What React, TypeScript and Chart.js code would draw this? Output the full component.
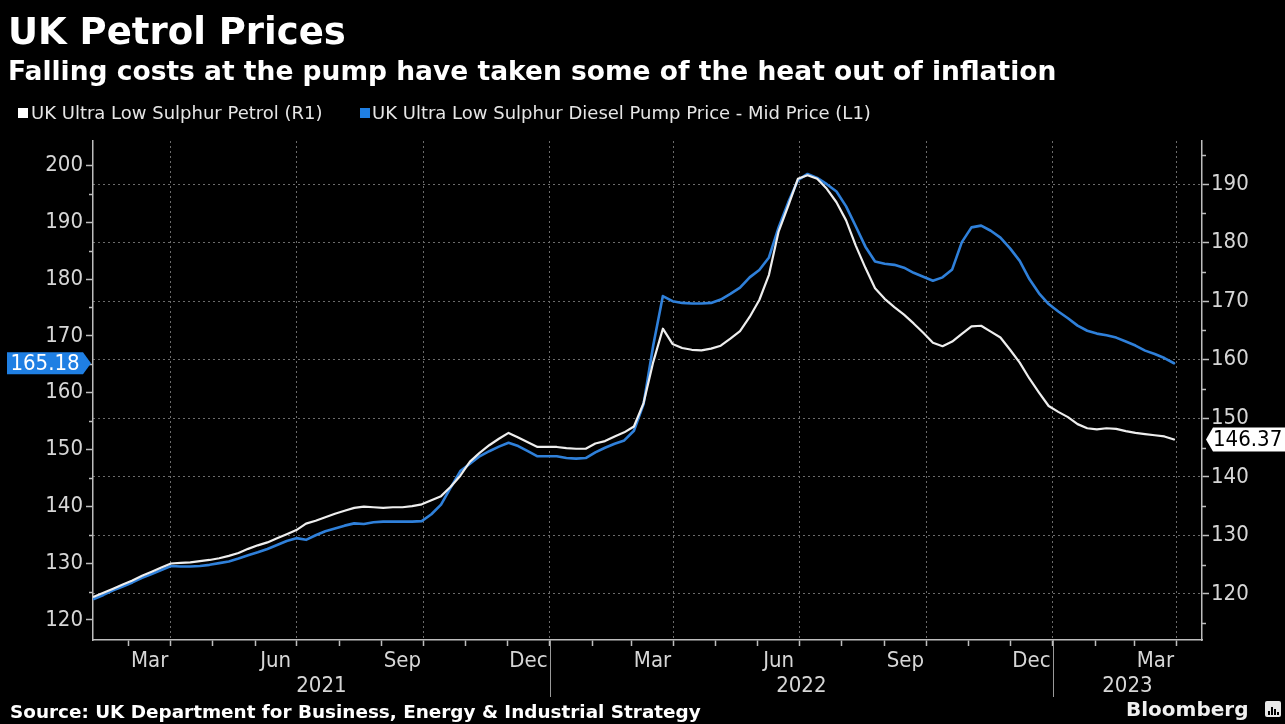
import React, { useEffect, useRef } from "react";
import { Chart, registerables } from "chart.js";

Chart.register(...registerables);

// ---------- data (weekly) ----------
const FIRST_WEEK = { y: 2021, m: 1, d: 4 }; // 4 Feb 2021, then weekly

const petrol = [
  119.5, 120.2, 120.9, 121.6, 122.3, 123.1, 123.8, 124.5, 125.2, 125.3,
  125.4, 125.6, 125.8, 126.1, 126.5, 127.0, 127.7, 128.3, 128.8, 129.5,
  130.2, 130.9, 132.0, 132.5, 133.1, 133.7, 134.2, 134.7, 134.9, 134.8,
  134.7, 134.8, 134.8, 135.0, 135.3, 136.0, 136.7, 138.3, 140.2, 142.6,
  144.1, 145.4, 146.5, 147.5, 146.7, 145.9, 145.1, 145.1, 145.1, 144.9,
  144.8, 144.8, 145.7, 146.1, 146.9, 147.6, 148.6, 152.6, 159.6, 165.3,
  162.7, 162.0, 161.7, 161.6, 161.9, 162.4, 163.6, 164.9, 167.3, 170.2,
  174.5, 181.9, 186.3, 190.9, 191.5, 190.9, 189.2, 186.9, 183.8, 179.5,
  175.7, 172.2, 170.4, 169.0, 167.7, 166.2, 164.6, 162.9, 162.3, 163.1,
  164.4, 165.7, 165.8, 164.8, 163.8, 161.7, 159.5, 156.8, 154.4, 152.1,
  151.1, 150.2, 149.0, 148.3, 148.1, 148.3, 148.2, 147.8, 147.5, 147.3,
  147.1, 146.9, 146.37,
];

const diesel = [
  123.7, 124.4, 125.2, 125.9, 126.6, 127.4, 128.1, 128.8, 129.5, 129.4,
  129.4, 129.5, 129.7, 130.0, 130.3, 130.8, 131.4, 131.9, 132.5, 133.2,
  133.9, 134.4, 134.1, 134.9, 135.6, 136.1, 136.6, 137.0, 136.9, 137.2,
  137.3, 137.3, 137.3, 137.3, 137.4, 138.6, 140.3, 143.3, 146.2, 147.5,
  148.8, 149.7, 150.5, 151.2, 150.6, 149.7, 148.8, 148.8, 148.8, 148.5,
  148.4, 148.5, 149.5, 150.3, 151.0, 151.6, 153.3, 158.0, 168.3, 177.0,
  176.1, 175.8, 175.7, 175.7, 175.8, 176.4, 177.4, 178.5, 180.3, 181.6,
  183.8, 189.1, 193.5, 197.4, 198.5, 197.8, 196.7, 195.4, 192.8, 189.3,
  185.7, 183.1, 182.7, 182.5, 182.0, 181.1, 180.4, 179.7, 180.3, 181.7,
  186.5, 189.1, 189.4, 188.5, 187.3, 185.4, 183.2, 180.0, 177.5, 175.6,
  174.3, 173.1, 171.8, 170.9, 170.4, 170.1, 169.7, 169.0, 168.3, 167.4,
  166.8, 166.1, 165.18,
];

const leftMajorTicks = [120, 130, 140, 150, 160, 170, 180, 190, 200];
const leftMinorTicks = [125, 135, 145, 155, 165, 175, 185, 195];
const rightMajorTicks = [120, 130, 140, 150, 160, 170, 180, 190];
const rightMinorTicks = [115, 125, 135, 145, 155, 165, 175, 185, 195];
const monthNames = ["Jan", "Feb", "Mar", "Apr", "May", "Jun", "Jul", "Aug", "Sep", "Oct", "Nov", "Dec"];
const labelledMonths = ["Mar", "Jun", "Sep", "Dec"];
const years = [2021, 2022, 2023];

const TITLE = "UK Petrol Prices";
const SUBTITLE = "Falling costs at the pump have taken some of the heat out of inflation";
const PETROL_NAME = "UK Ultra Low Sulphur Petrol (R1)";
const DIESEL_NAME = "UK Ultra Low Sulphur Diesel Pump Price - Mid Price (L1)";
const SOURCE = "Source: UK Department for Business, Energy & Industrial Strategy";

// ---------- styling ----------
const W = 1285;
const H = 724;
const AXIS = "#bdbdbd";
const GRID = "#6b6b6b";
const LABEL = "#d6d6d6";
const BLUE = "#2f80da";
const WHITE = "#eeeeee";
const FONT = "'DejaVu Sans', sans-serif";
const FONT_C = "'DejaVu Sans Condensed', 'DejaVu Sans', sans-serif";

// day numbers since 1 Jan 2021
const EPOCH = Date.UTC(2021, 0, 1);
const dayOf = (y: number, m: number, d: number) => (Date.UTC(y, m, d) - EPOCH) / 86400000;
const firstDay = dayOf(FIRST_WEEK.y, FIRST_WEEK.m, FIRST_WEEK.d);
const weekDays = petrol.map((_, i) => firstDay + 7 * i);

const X_MIN = 33.4;
const X_MAX = 838.3;

type XT = { value: number; label: string; month: boolean; quarter: boolean };
const xTicks: XT[] = [];
for (const y of years) {
  for (let m = 0; m < 12; m++) {
    const start = dayOf(y, m, 1);
    const next = dayOf(y, m + 1, 1);
    if (start >= X_MIN && start <= X_MAX) {
      xTicks.push({ value: start, label: "", month: true, quarter: m % 3 === 0 });
    }
    const mid = (start + next) / 2;
    if (labelledMonths.includes(monthNames[m]) && mid >= X_MIN && mid <= X_MAX) {
      xTicks.push({ value: mid, label: monthNames[m], month: false, quarter: false });
    }
  }
}
xTicks.sort((a, b) => a.value - b.value);
const findX = (v: number) => xTicks.find((t) => Math.abs(t.value - v) < 1e-6);

const customDraw = {
  id: "customDraw",
  afterDraw(chart: any) {
    const { ctx, chartArea, scales } = chart;
    const x = scales.x;
    const yL = scales.yL;
    const yR = scales.yR;
    ctx.save();

    // minor ticks
    ctx.strokeStyle = AXIS;
    ctx.lineWidth = 1.5;
    for (const v of leftMinorTicks) {
      const py = Math.round(yL.getPixelForValue(v)) + 0.5;
      ctx.beginPath();
      ctx.moveTo(chartArea.left - 4, py);
      ctx.lineTo(chartArea.left, py);
      ctx.stroke();
    }
    for (const v of rightMinorTicks) {
      const py = Math.round(yR.getPixelForValue(v)) + 0.5;
      ctx.beginPath();
      ctx.moveTo(chartArea.right, py);
      ctx.lineTo(chartArea.right + 4, py);
      ctx.stroke();
    }

    // year separators and labels
    ctx.strokeStyle = "#9a9a9a";
    ctx.lineWidth = 1;
    const bounds = [X_MIN, ...years.slice(1).map((y) => dayOf(y, 0, 1)), X_MAX];
    for (let i = 1; i < bounds.length - 1; i++) {
      const px = Math.round(x.getPixelForValue(bounds[i])) + 0.5;
      ctx.beginPath();
      ctx.moveTo(px, chartArea.bottom);
      ctx.lineTo(px, chartArea.bottom + 57);
      ctx.stroke();
    }
    ctx.fillStyle = LABEL;
    ctx.font = `22px ${FONT_C}`;
    ctx.textAlign = "center";
    ctx.textBaseline = "middle";
    years.forEach((yr, i) => {
      const a = x.getPixelForValue(bounds[i]);
      const b = x.getPixelForValue(bounds[i + 1]);
      ctx.fillText(String(yr), (a + b) / 2, chartArea.bottom + 46);
    });

    // last value tags
    const dv = diesel[diesel.length - 1];
    const yd = yL.getPixelForValue(dv);
    ctx.fillStyle = "#1f7fe3";
    ctx.beginPath();
    ctx.moveTo(7, yd - 11);
    ctx.lineTo(83, yd - 11);
    ctx.lineTo(91, yd);
    ctx.lineTo(83, yd + 11);
    ctx.lineTo(7, yd + 11);
    ctx.closePath();
    ctx.fill();
    ctx.fillStyle = "#ffffff";
    ctx.textAlign = "center";
    ctx.fillText(dv.toFixed(2), 45, yd + 1);

    const pv = petrol[petrol.length - 1];
    const yp = yR.getPixelForValue(pv);
    ctx.fillStyle = "#ffffff";
    ctx.beginPath();
    ctx.moveTo(1206, yp);
    ctx.lineTo(1213, yp - 12);
    ctx.lineTo(W, yp - 12);
    ctx.lineTo(W, yp + 12);
    ctx.lineTo(1213, yp + 12);
    ctx.closePath();
    ctx.fill();
    ctx.fillStyle = "#000000";
    ctx.textAlign = "left";
    ctx.fillText(pv.toFixed(2), 1213, yp + 1);

    ctx.restore();
  },
};

export default function App() {
  const canvasRef = useRef<HTMLCanvasElement | null>(null);

  useEffect(() => {
    document.body.style.margin = "0";
    document.body.style.background = "#000";
    const canvas = canvasRef.current;
    if (!canvas) return;

    const chart = new Chart(canvas, {
      type: "line",
      data: {
        datasets: [
          {
            label: PETROL_NAME,
            data: weekDays.map((d, i) => ({ x: d, y: petrol[i] })),
            yAxisID: "yR",
            borderColor: WHITE,
            borderWidth: 2.2,
            pointRadius: 0,
            tension: 0,
            borderJoinStyle: "round",
            borderCapStyle: "round",
          },
          {
            label: DIESEL_NAME,
            data: weekDays.map((d, i) => ({ x: d, y: diesel[i] })),
            yAxisID: "yL",
            borderColor: BLUE,
            borderWidth: 2.6,
            pointRadius: 0,
            tension: 0,
            borderJoinStyle: "round",
            borderCapStyle: "round",
          },
        ],
      },
      options: {
        animation: false,
        responsive: false,
        maintainAspectRatio: false,
        parsing: false,
        layout: { padding: { top: 141, left: 0, right: 0, bottom: 0 } },
        plugins: {
          legend: { display: false },
          title: { display: false },
          tooltip: { enabled: false },
        },
        scales: {
          x: {
            type: "linear",
            min: X_MIN,
            max: X_MAX,
            afterBuildTicks: (s: any) => {
              s.ticks = xTicks.map((t) => ({ value: t.value }));
            },
            afterFit: (s: any) => {
              s.height = 84;
            },
            ticks: {
              autoSkip: false,
              maxRotation: 0,
              minRotation: 0,
              padding: 2,
              color: LABEL,
              font: { family: FONT_C, size: 22 },
              callback: (v: any) => findX(Number(v))?.label ?? "",
            },
            grid: {
              drawOnChartArea: true,
              drawTicks: true,
              tickLength: 6,
              lineWidth: 1,
              tickWidth: 1.5,
              tickBorderDash: [],
              color: (c: any) => (c.tick && findX(c.tick.value)?.quarter ? GRID : "transparent"),
              tickColor: (c: any) => (c.tick && findX(c.tick.value)?.month ? AXIS : "transparent"),
            },
            border: { display: true, color: AXIS, width: 1.5, dash: [2, 3] },
          },
          yL: {
            type: "linear",
            position: "left",
            min: 116.47,
            max: 204.3,
            afterBuildTicks: (s: any) => {
              s.ticks = leftMajorTicks.map((v) => ({ value: v }));
            },
            afterFit: (s: any) => {
              s.width = 93;
            },
            ticks: {
              autoSkip: false,
              padding: 3,
              color: LABEL,
              font: { family: FONT_C, size: 22 },
              callback: (v: any) => String(v),
            },
            grid: {
              drawOnChartArea: false,
              drawTicks: true,
              tickLength: 7,
              tickWidth: 1.5,
              tickColor: AXIS,
              tickBorderDash: [],
            },
            border: { display: true, color: AXIS, width: 1.5 },
          },
          yR: {
            type: "linear",
            position: "right",
            min: 112.13,
            max: 197.36,
            afterBuildTicks: (s: any) => {
              s.ticks = rightMajorTicks.map((v) => ({ value: v }));
            },
            afterFit: (s: any) => {
              s.width = 83;
            },
            ticks: {
              autoSkip: false,
              padding: 2,
              color: LABEL,
              font: { family: FONT_C, size: 22 },
              callback: (v: any) => String(v),
            },
            grid: {
              drawOnChartArea: true,
              drawTicks: true,
              tickLength: 7,
              lineWidth: 1,
              tickWidth: 1.5,
              color: GRID,
              tickColor: AXIS,
              tickBorderDash: [],
            },
            border: { display: true, color: AXIS, width: 1.5, dash: [2, 3] },
          },
        },
      } as any,
      plugins: [customDraw],
    });

    return () => chart.destroy();
  }, []);

  const abs = (extra: React.CSSProperties): React.CSSProperties => ({
    position: "absolute",
    whiteSpace: "nowrap",
    color: "#ffffff",
    margin: 0,
    ...extra,
  });

  return (
    <div style={{ position: "relative", width: W, height: H, background: "#000", overflow: "hidden" }}>
      <canvas ref={canvasRef} width={W} height={H} style={{ position: "absolute", left: 0, top: 0, width: W, height: H }} />
      <div style={abs({ left: 8, top: 13, font: `bold 37px ${FONT}`, lineHeight: "37px" })}>{TITLE}</div>
      <div style={abs({ left: 8, top: 58, font: `bold 26.5px ${FONT}`, lineHeight: "26.5px" })}>{SUBTITLE}</div>
      <div style={abs({ left: 18, top: 108, width: 10, height: 10, background: "#ffffff" })} />
      <div style={abs({ left: 31, top: 104, font: `18px ${FONT}`, lineHeight: "18px", color: "#e6e6e6" })}>{PETROL_NAME}</div>
      <div style={abs({ left: 360, top: 108, width: 10, height: 10, background: "#1f7fe3" })} />
      <div style={abs({ left: 372, top: 104, font: `18px ${FONT}`, lineHeight: "18px", color: "#e6e6e6" })}>{DIESEL_NAME}</div>
      <div style={abs({ left: 10, top: 703, font: `bold 18.4px ${FONT}`, lineHeight: "18.4px" })}>{SOURCE}</div>
      <div style={abs({ left: 1126, top: 699, font: `bold 20px ${FONT}`, lineHeight: "20px", color: "#f0f0f0" })}>Bloomberg</div>
      <div
        style={abs({
          left: 1265,
          top: 701,
          width: 16,
          height: 16,
          background: "#e8e8e8",
          borderRadius: 2,
          display: "flex",
          alignItems: "flex-end",
          justifyContent: "center",
          gap: 1,
          paddingBottom: 2,
          boxSizing: "border-box",
        })}
      >
        <div style={{ width: 2, height: 4, background: "#000" }} />
        <div style={{ width: 2, height: 8, background: "#000" }} />
        <div style={{ width: 2, height: 6, background: "#000" }} />
        <div style={{ width: 2, height: 3, background: "#000" }} />
      </div>
    </div>
  );
}
